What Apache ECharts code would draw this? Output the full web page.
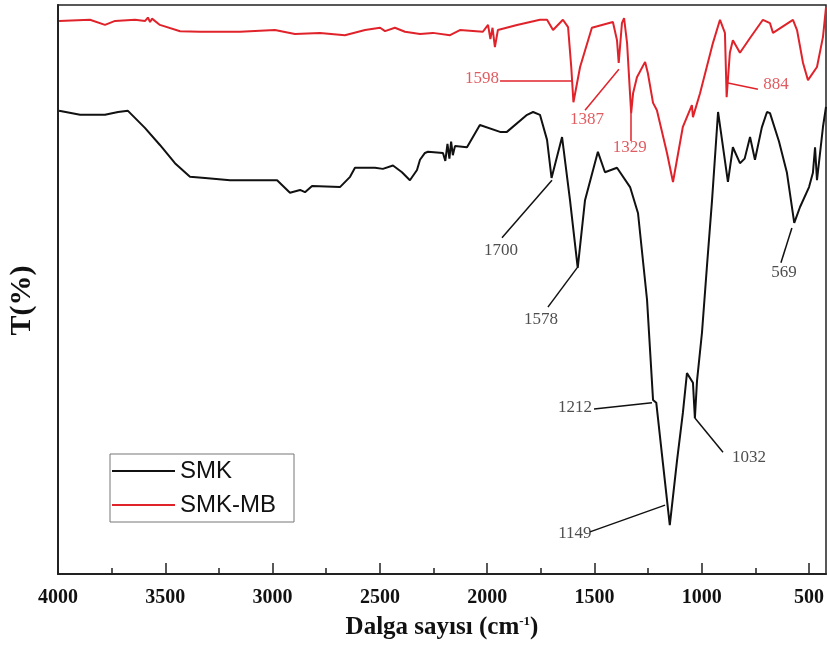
<!DOCTYPE html>
<html lang="tr" style="height: 100%">
<head>
<meta charset="utf-8">
<title>FTIR SMK / SMK-MB</title>
</head>
<body style="height: 100%; margin: 0; background: #fff">
<div id="container" style="width: 827px; height: 646px"></div>

<script type="text/javascript" src="https://cdn.jsdelivr.net/npm/echarts@6/dist/echarts.min.js"></script>

<script type="text/javascript">
// wavenumber (cm-1), transmittance (arbitrary units, offset)
var smk = [
  [3995, 81.4], [3897, 80.7], [3781, 80.7], [3720, 81.2], [3674, 81.4],
  [3595, 78.4], [3525, 75.4], [3455, 72.2], [3385, 69.8], [3315, 69.6],
  [3198, 69.2], [3082, 69.2], [2979, 69.2], [2919, 67.0], [2872, 67.5],
  [2849, 67.1], [2816, 68.2], [2686, 68.0], [2639, 69.8], [2616, 71.4],
  [2523, 71.4], [2486, 71.2], [2439, 71.8], [2397, 70.6], [2360, 69.2],
  [2327, 71.0], [2313, 72.8], [2290, 74.0], [2276, 74.2], [2206, 74.0],
  [2195, 72.6], [2185, 75.6], [2176, 73.0], [2168, 76.0], [2160, 73.6],
  [2150, 75.2], [2094, 75.0], [2034, 78.9], [1940, 77.7], [1908, 77.7],
  [1814, 80.7], [1786, 81.2], [1754, 80.7], [1721, 76.3], [1700, 69.6],
  [1651, 76.8], [1614, 65.7], [1578, 53.8], [1544, 65.7], [1484, 74.2],
  [1451, 70.6], [1395, 71.4], [1334, 68.0], [1297, 63.4], [1255, 48.2],
  [1227, 30.6], [1212, 30.1], [1181, 19.5], [1149, 8.6], [1115, 20.0],
  [1088, 28.3], [1069, 35.3], [1041, 33.6], [1032, 27.4], [1022, 34.0],
  [999, 42.4], [976, 54.0], [952, 65.7], [924, 81.2], [915, 81.5],
  [878, 68.9], [855, 75.0], [822, 72.2], [800, 73.0], [775, 76.8],
  [752, 72.8], [720, 78.5], [696, 81.2], [682, 81.0], [640, 76.0],
  [603, 70.5], [569, 61.7], [542, 64.5], [500, 68.0], [482, 70.5],
  [472, 75.0], [463, 69.2], [435, 78.6], [421, 82.1]
];

var smkMb = [
  [3995, 97.2], [3851, 97.4], [3781, 96.5], [3734, 97.2], [3641, 97.4],
  [3594, 97.2], [3581, 97.8], [3571, 97.0], [3562, 97.6], [3525, 96.5],
  [3431, 95.4], [3338, 95.3], [3152, 95.3], [2989, 95.6], [2896, 94.9],
  [2779, 95.1], [2663, 94.7], [2569, 95.6], [2499, 96.0], [2476, 95.4],
  [2430, 96.0], [2383, 95.3], [2313, 94.9], [2253, 95.1], [2173, 94.7],
  [2127, 95.6], [2020, 95.3], [1996, 96.5], [1985, 94.0], [1975, 96.0],
  [1964, 92.6], [1950, 95.6], [1861, 96.5], [1754, 97.4], [1721, 97.4],
  [1693, 95.6], [1647, 97.4], [1623, 96.1], [1608, 89.0], [1598, 82.9],
  [1567, 89.1], [1512, 96.0], [1414, 97.0], [1395, 93.8], [1387, 89.8],
  [1372, 96.8], [1362, 97.7], [1348, 93.3], [1329, 81.0], [1320, 84.5],
  [1302, 87.3], [1264, 90.0], [1251, 88.0], [1227, 82.8], [1209, 81.5],
  [1162, 74.0], [1134, 68.9], [1088, 78.6], [1046, 82.4], [1041, 80.3],
  [1008, 84.5], [948, 93.3], [915, 97.4], [892, 95.1], [884, 83.8],
  [869, 91.6], [855, 93.8], [822, 91.6], [775, 94.2], [715, 97.4],
  [682, 96.8], [668, 95.1], [575, 97.4], [556, 95.6], [528, 89.8],
  [505, 86.8], [463, 89.1], [435, 94.4], [421, 99.6]
];

var majorTicks = [4000, 3500, 3000, 2500, 2000, 1500, 1000, 500];
var minorTicks = [3750, 3250, 2750, 2250, 1750, 1250, 750];

// peak annotations: text, text anchor, leader line [peak end, text end]
var smkLabels = ['1700', '1578', '1212', '1149', '1032', '569'];
var smkLabelAt = [[1936, 56.9], [1749, 44.8], [1591, 29.3], [1591, 7.2], [780, 20.4], [617, 52.9]];
var smkLeaders = [
  [[1698, 69.2], [1931, 59.1]],
  [[1581, 53.8], [1717, 46.9]],
  [[1232, 30.1], [1502, 29.0]],
  [[1171, 12.1], [1521, 7.4]],
  [[1032, 27.4], [901, 21.4]],
  [[580, 60.8], [631, 54.7]]
];
var mbLabels = ['1598', '1387', '1329', '884'];
var mbLabelAt = [[2024, 87.0], [1535, 79.8], [1335, 74.9], [654, 86.1]];
var mbLeaders = [
  [[1600, 86.6], [1940, 86.6]],
  [[1386, 88.7], [1544, 81.5]],
  [[1330, 81.0], [1330, 76.1]],
  [[878, 86.3], [738, 85.2]]
];

var black = '#111111';
var red = '#e0232b';
var serif = '"Liberation Serif", "Times New Roman", serif';

var dom = document.getElementById('container');
var myChart = echarts.init(dom);

function textPoints(names, pos) {
  return names.map(function (n, i) {
    return { value: pos[i], name: n };
  });
}
function leaderLines(list) {
  return list.map(function (c) {
    return { coords: c };
  });
}

var option = {
  animation: false,
  grid: {
    left: 58, right: 1, top: 5, bottom: 72,
    containLabel: false, outerBoundsMode: 'none',
    show: true, borderColor: '#222', borderWidth: 1.5
  },
  legend: {
    data: ['SMK', 'SMK-MB'],
    orient: 'vertical',
    left: 110, top: 454,
    padding: [5, 18, 5, 2],
    icon: 'rect',
    itemWidth: 63, itemHeight: 2, itemGap: 10,
    borderColor: '#777', borderWidth: 1,
    textStyle: { fontFamily: '"Liberation Sans", Arial, sans-serif', fontSize: 24, color: '#111', lineHeight: 24 }
  },
  xAxis: [
    {
      type: 'value', min: 421, max: 4000, inverse: true,
      splitLine: { show: false },
      axisLine: { show: true, lineStyle: { color: '#222', width: 2 } },
      axisTick: { show: true, inside: true, length: 11, customValues: majorTicks, lineStyle: { color: '#222', width: 1.5 } },
      axisLabel: {
        customValues: majorTicks, margin: 14,
        formatter: function (v) { return String(v); },
        fontFamily: serif, fontWeight: 'bold', fontSize: 20, color: '#111'
      },
      name: '{a|Dalga sayısı (cm}{s|-1}{a|)}',
      nameLocation: 'middle', nameGap: 41,
      nameTextStyle: {
        rich: {
          a: { fontFamily: serif, fontWeight: 'bold', fontSize: 25, color: '#111' },
          s: { fontFamily: serif, fontWeight: 'bold', fontSize: 13, color: '#111', padding: [0, 0, 12, 0] }
        }
      }
    },
    {
      type: 'value', min: 421, max: 4000, inverse: true, position: 'bottom',
      splitLine: { show: false },
      axisLine: { show: false },
      axisTick: { show: true, inside: true, length: 6, customValues: minorTicks, lineStyle: { color: '#222', width: 1.5 } },
      axisLabel: { show: false }
    }
  ],
  yAxis: {
    type: 'value', min: 0, max: 100,
    splitLine: { show: false },
    axisTick: { show: false },
    axisLabel: { show: false },
    axisLine: { show: true, lineStyle: { color: '#222', width: 2 } },
    name: 'T(%)', nameLocation: 'middle', nameGap: 21,
    nameTextStyle: { fontFamily: serif, fontWeight: 'bold', fontSize: 30, color: '#111', padding: [0, 22, 0, 0] }
  },
  series: [
    {
      name: 'SMK', type: 'line', data: smk, symbol: 'none',
      lineStyle: { color: black, width: 2 }, itemStyle: { color: black }
    },
    {
      name: 'SMK-MB', type: 'line', data: smkMb, symbol: 'none',
      lineStyle: { color: red, width: 2 }, itemStyle: { color: red }
    },
    {
      type: 'lines', coordinateSystem: 'cartesian2d', silent: true,
      data: leaderLines(smkLeaders),
      lineStyle: { color: black, width: 1.5, opacity: 1 }
    },
    {
      type: 'lines', coordinateSystem: 'cartesian2d', silent: true,
      data: leaderLines(mbLeaders),
      lineStyle: { color: red, width: 1.5, opacity: 1 }
    },
    {
      type: 'scatter', symbolSize: 0, silent: true,
      data: textPoints(smkLabels, smkLabelAt),
      label: {
        show: true, position: 'inside', formatter: '{b}',
        fontFamily: serif, fontSize: 17, color: '#222'
      }
    },
    {
      type: 'scatter', symbolSize: 0, silent: true,
      data: textPoints(mbLabels, mbLabelAt),
      label: {
        show: true, position: 'inside', formatter: '{b}',
        fontFamily: serif, fontSize: 17, color: '#d8333a'
      }
    }
  ]
};

myChart.setOption(option);
window.addEventListener('resize', myChart.resize);
</script>
</body>
</html>
